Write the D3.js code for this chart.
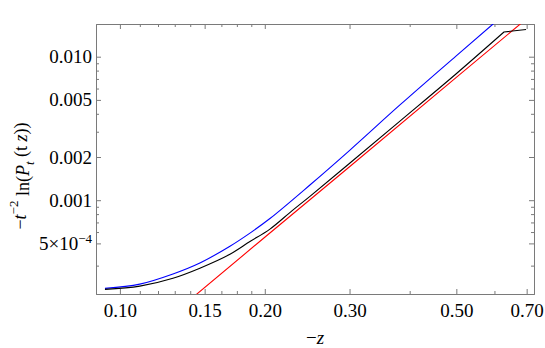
<!DOCTYPE html>
<html>
  <head>
    <meta charset="utf-8">
    <title>tail plot</title>
    <style media="screen">
      body {margin:0; background:#fff}
      svg text {font-family: "Liberation Serif", "Times New Roman", serif; fill:#000}
    </style>
  </head>
  <body>
    <script src="https://cdn.jsdelivr.net/npm/d3@7"></script>
    <script type="text/javascript">

    // values
    const blueZ  = [0.0931, 0.110, 0.1289, 0.1466, 0.1693, 0.1863, 0.2050, 0.2482, 0.3006, 0.3818, 0.4991, 0.596, 0.646]
    const blueY  = [0.000243, 0.000260, 0.000306, 0.000365, 0.000478, 0.000590, 0.000745, 0.001276, 0.002235, 0.00461, 0.0101, 0.0169, 0.0215]

    const blackZ = [0.0931, 0.110, 0.1289, 0.1466, 0.1693, 0.1863, 0.2050, 0.2277, 0.2482, 0.3006, 0.3818, 0.4991, 0.628, 0.698]
    const blackY = [0.000239, 0.000252, 0.000286, 0.000336, 0.000420, 0.000515, 0.000629, 0.000843, 0.001064, 0.001816, 0.00356, 0.00758, 0.01486, 0.01548]
    const blackKink = 12   // index where the black curve turns flat

    const redZ = [0.14, 0.20, 0.30, 0.50, 0.70]
    const redY = [0.000203, 0.000552, 0.00171, 0.00717, 0.0184]

    const xMajor = [0.10, 0.15, 0.20, 0.30, 0.50, 0.70]
    const xMinor = [0.11, 0.12, 0.13, 0.14, 0.1625, 0.175, 0.1875, 0.40, 0.60]
    const yMajor = [0.01, 0.005, 0.002, 0.001, 0.0005]
    const yMinor = [0.009, 0.008, 0.007, 0.006, 0.004, 0.003, 0.0009, 0.0008, 0.0007, 0.0006, 0.00035]

    const W = 545, H = 348
    const L = 96, R = 534, T = 24, B = 294
    const font = '"Liberation Serif", "Times New Roman", serif'

    const svg = d3.select('body').append('svg')
      .attr('width', W)
      .attr('height', H)

    const x = d3.scaleLog().domain([0.0892, 0.725]).range([L, R])
    const y = d3.scaleLog().domain([0.000222, 0.0169]).range([B, T])

    svg.append('clipPath').attr('id', 'clip')
      .append('rect').attr('x', L).attr('y', T).attr('width', R - L).attr('height', B - T)

    const frame = '#7a7a7a'

    function styleAxis (g) {
      g.attr('font-family', font)
      g.selectAll('.domain').attr('stroke', frame)
      g.selectAll('.tick line').attr('stroke', frame)
      g.selectAll('text').style('font-family', font).attr('font-size', 19).attr('fill', '#000')
    }

    // major ticks
    svg.append('g').attr('transform', `translate(0,${B})`)
      .call(d3.axisBottom(x).tickValues(xMajor).tickSize(-5).tickPadding(10).tickFormat(d3.format('.2f')))
      .call(styleAxis)
    svg.append('g').attr('transform', `translate(0,${T})`)
      .call(d3.axisTop(x).tickValues(xMajor).tickSize(-5).tickFormat(''))
      .call(styleAxis)

    const left = svg.append('g').attr('transform', `translate(${L},0)`)
      .call(d3.axisLeft(y).tickValues(yMajor).tickSize(-5).tickPadding(4)
        .tickFormat(d => d >= 0.001 ? d3.format('.3f')(d) : ''))
      .call(styleAxis)
    svg.append('g').attr('transform', `translate(${R},0)`)
      .call(d3.axisRight(y).tickValues(yMajor).tickSize(-5).tickFormat(''))
      .call(styleAxis)

    // 5×10^-4 label
    const small = left.selectAll('.tick').filter(d => d < 0.001).select('text')
    small.append('tspan').text('5\u00d710')
    small.append('tspan').attr('font-size', 13).attr('dy', '-0.55em').text('\u22124')

    // minor ticks
    const minor = [
      [d3.axisBottom(x).tickValues(xMinor), `translate(0,${B})`],
      [d3.axisTop(x).tickValues(xMinor), `translate(0,${T})`],
      [d3.axisLeft(y).tickValues(yMinor), `translate(${L},0)`],
      [d3.axisRight(y).tickValues(yMinor), `translate(${R},0)`]
    ]
    minor.forEach(([ax, tr]) => {
      const g = svg.append('g').attr('transform', tr)
        .call(ax.tickSize(-3).tickFormat(''))
      g.select('.domain').remove()
      g.selectAll('.tick line').attr('stroke', frame)
    })

    // curves
    const line = d3.line()
      .x(d => x(d[0]))
      .y(d => y(d[1]))
      .curve(d3.curveCatmullRom.alpha(0.5))
    const straight = d3.line()
      .x(d => x(d[0]))
      .y(d => y(d[1]))

    const plot = svg.append('g').attr('clip-path', 'url(#clip)')

    const blue = blueZ.map((z, i) => [z, blueY[i]])
    const red = redZ.map((z, i) => [z, redY[i]])
    const black = blackZ.map((z, i) => [z, blackY[i]])

    plot.append('path')
      .attr('d', line(blue))
      .attr('fill', 'none').attr('stroke', '#0000ff').attr('stroke-width', 1.1)

    plot.append('path')
      .attr('d', straight(red))
      .attr('fill', 'none').attr('stroke', '#ff0000').attr('stroke-width', 1.1)

    plot.append('path')
      .attr('d', line(black.slice(0, blackKink + 1)) + straight(black.slice(blackKink)).replace(/^M/, 'L'))
      .attr('fill', 'none').attr('stroke', '#000').attr('stroke-width', 1.1)

    // axis titles
    const xt = svg.append('text')
      .attr('x', (L + R) / 2).attr('y', 344)
      .attr('text-anchor', 'middle').attr('font-size', 19)
    xt.append('tspan').text('\u2212')
    xt.append('tspan').attr('font-style', 'italic').text('z')

    const yt = svg.append('text')
      .attr('transform', `translate(26,${(T + B) / 2 + 17}) rotate(-90)`)
      .attr('text-anchor', 'middle').attr('font-size', 18)
    yt.append('tspan').text('\u2212')
    yt.append('tspan').attr('font-style', 'italic').text('t')
    yt.append('tspan').attr('font-size', 13).attr('dy', '-0.6em').text('\u22122')
    yt.append('tspan').attr('dy', '0.6em').text(' ln(')
    yt.append('tspan').attr('font-style', 'italic').text('P')
    yt.append('tspan').attr('font-style', 'italic').attr('font-size', 13).attr('dy', '0.35em').text('t')
    yt.append('tspan').attr('dy', '-0.35em').text(' (t ')
    yt.append('tspan').attr('font-style', 'italic').text('z')
    yt.append('tspan').text('))')

    </script>
  </body>
</html>
